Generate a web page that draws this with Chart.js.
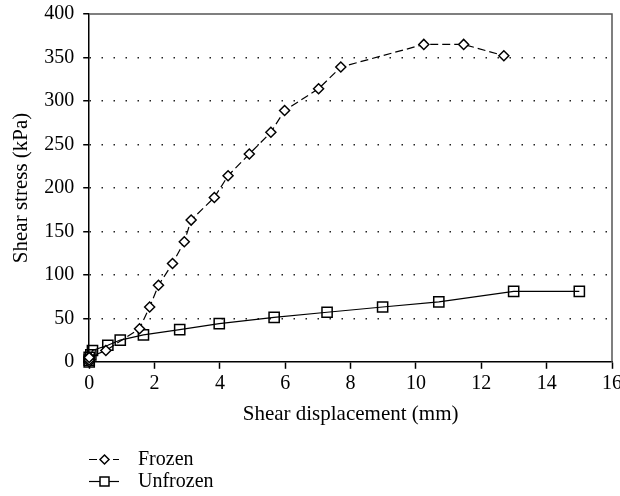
<!DOCTYPE html>
<html>
<head>
<meta charset="utf-8">
<script src="https://cdn.jsdelivr.net/npm/chart.js@4.4.1/dist/chart.umd.min.js"></script>
<style>
  html, body { margin: 0; padding: 0; background: #fff; overflow: hidden; width: 620px; height: 496px; }
  canvas { display: block; }
</style>
</head>
<body>
<canvas id="chart" width="640" height="496"></canvas>
<script>
// values
const seriesNames = ['Frozen', 'Unfrozen'];

const frozenX = [0, 0, 0, 0.51, 1.54, 1.85, 2.12, 2.55, 2.91, 3.12, 3.83, 4.25, 4.90, 5.56, 5.98, 7.02, 7.70, 10.24, 11.46, 12.69];
const frozenY = [0, 2, 5, 13, 38, 63, 88, 113, 138, 163, 189, 214, 239, 264, 289, 314, 339, 365, 365, 352];

const unfrozenX = [0, 0, 0, 0.05, 0.10, 0.57, 0.95, 1.66, 2.77, 3.98, 5.66, 7.28, 8.98, 10.70, 12.99, 15.00];
const unfrozenY = [0, 2, 5, 8, 13, 19, 25, 31, 37, 44, 51, 57, 63, 69, 81, 81];

const xTicks = [0, 2, 4, 6, 8, 10, 12, 14, 16];
const yTicks = [0, 50, 100, 150, 200, 250, 300, 350, 400];

const toPoints = (xs, ys) => xs.map((x, i) => ({x: x, y: ys[i]}));

const FONT = "'Liberation Serif', 'Times New Roman', serif";
Chart.defaults.font.family = FONT;
Chart.defaults.font.size = 20;
Chart.defaults.color = '#000';

// top and right sides of the plot frame
const framePlugin = {
  id: 'frame',
  beforeDatasetsDraw(chart) {
    const {ctx, chartArea: a} = chart;
    ctx.save();
    ctx.strokeStyle = '#555';
    ctx.lineWidth = 1.5;
    ctx.beginPath();
    ctx.moveTo(a.left, a.top);
    ctx.lineTo(a.right, a.top);
    ctx.lineTo(a.right, a.bottom);
    ctx.stroke();
    ctx.restore();
  }
};

// legend under the chart: line sample + marker + label
const legendPlugin = {
  id: 'lineLegend',
  afterDraw(chart) {
    const ctx = chart.ctx;
    const x0 = 89, x1 = 119, textX = 138;
    const rows = [459.5, 481.5];
    chart.data.datasets.forEach((ds, i) => {
      const y = rows[i];
      ctx.save();
      ctx.strokeStyle = ds.borderColor;
      ctx.lineWidth = ds.borderWidth;
      ctx.setLineDash(ds.borderDash || []);
      ctx.beginPath();
      ctx.moveTo(x0, y);
      ctx.lineTo(x1, y);
      ctx.stroke();
      ctx.setLineDash([]);
      const cx = (x0 + x1) / 2 + 0.5;
      const r = 4.5;
      ctx.fillStyle = '#fff';
      ctx.strokeStyle = ds.pointBorderColor;
      ctx.lineWidth = 1.5;
      ctx.beginPath();
      if (ds.pointStyle === 'rect') {
        ctx.rect(cx - r, y - r, 2 * r, 2 * r);
      } else {
        ctx.moveTo(cx - r, y);
        ctx.lineTo(cx, y - r);
        ctx.lineTo(cx + r, y);
        ctx.lineTo(cx, y + r);
        ctx.closePath();
      }
      ctx.fill();
      ctx.stroke();
      ctx.fillStyle = '#000';
      ctx.font = '20px ' + FONT;
      ctx.textBaseline = 'middle';
      ctx.fillText(ds.label, textX, y);
      ctx.restore();
    });
  }
};

new Chart(document.getElementById('chart'), {
  type: 'scatter',
  data: {
    datasets: [
      {
        label: seriesNames[0],
        data: toPoints(frozenX, frozenY),
        showLine: true,
        borderColor: '#000',
        borderWidth: 1.2,
        borderDash: [8, 4],
        pointStyle: 'rectRot',
        pointRadius: 5,
        pointBorderWidth: 1.5,
        pointBackgroundColor: '#fff',
        pointBorderColor: '#000',
        clip: false
      },
      {
        label: seriesNames[1],
        data: toPoints(unfrozenX, unfrozenY),
        showLine: true,
        borderColor: '#000',
        borderWidth: 1.2,
        pointStyle: 'rect',
        pointRadius: 7.2,
        pointBorderWidth: 1.5,
        pointBackgroundColor: 'rgba(255,255,255,0)',
        pointBorderColor: '#000',
        clip: false
      }
    ]
  },
  options: {
    responsive: false,
    animation: false,
    devicePixelRatio: 1,
    layout: { padding: { left: 9, right: 28, top: 14, bottom: 69 } },
    plugins: {
      legend: { display: false },
      tooltip: { enabled: false }
    },
    scales: {
      x: {
        type: 'linear',
        min: 0,
        max: 16,
        afterBuildTicks: (axis) => { axis.ticks = xTicks.map(v => ({value: v})); },
        ticks: { padding: 3, maxRotation: 0 },
        grid: { drawOnChartArea: false, drawTicks: true, tickLength: 7, tickColor: '#000', tickWidth: 1.5 },
        border: { color: '#000', width: 1.5 },
        title: { display: true, text: 'Shear displacement (mm)', font: { size: 21 }, padding: { top: 3, bottom: 0 } }
      },
      y: {
        type: 'linear',
        min: 0,
        max: 400,
        afterBuildTicks: (axis) => { axis.ticks = yTicks.map(v => ({value: v})); },
        ticks: { padding: 9, font: { lineHeight: 0.25 } },
        grid: {
          drawTicks: true,
          tickLength: 6,
          tickColor: '#000',
          tickWidth: 1.5,
          lineWidth: 1.5,
          color: (c) => (c.tick && (c.tick.value === 0 || c.tick.value === 400)) ? 'rgba(0,0,0,0)' : '#222'
        },
        border: { color: '#000', width: 1.5, dash: [1.5, 10.5], dashOffset: -12 },
        title: { display: true, text: 'Shear stress (kPa)', font: { size: 21 }, padding: { top: 0, bottom: 1 } }
      }
    }
  },
  plugins: [framePlugin, legendPlugin]
});
</script>
</body>
</html>
